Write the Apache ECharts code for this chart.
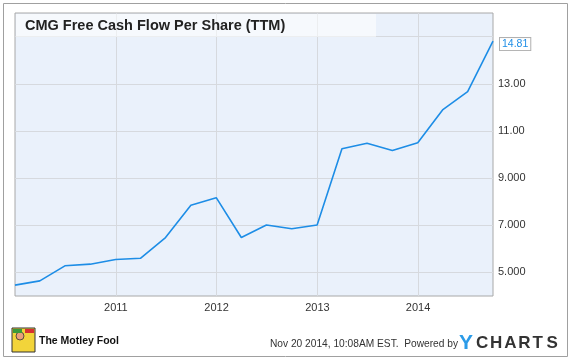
<!DOCTYPE html>
<html><head><meta charset="utf-8">
<script src="https://cdn.jsdelivr.net/npm/echarts@6/dist/echarts.min.js"></script>
<style>html,body{margin:0;padding:0;background:#fff}#c{width:580px;height:364px}</style>
</head><body><div id="c"></div>
<script>
const chartTitle = 'CMG Free Cash Flow Per Share (TTM)';
const dates = ['2009-12-31','2010-03-31','2010-06-30','2010-09-30','2010-12-31',
  '2011-03-31','2011-06-30','2011-09-30','2011-12-31',
  '2012-03-31','2012-06-30','2012-09-30','2012-12-31',
  '2013-03-31','2013-06-30','2013-09-30','2013-12-31',
  '2014-03-31','2014-06-30','2014-09-30'];
const values = [4.46,4.64,5.28,5.35,5.55,5.60,6.48,7.85,8.17,6.48,7.01,6.85,7.01,10.24,10.48,10.17,10.50,11.89,12.67,14.81];
const yTicks = [5,7,9,11,13,15];
const yTickLabels = ['5.000','7.000','9.000','11.00','13.00',''];
const xTicks = ['2011-01-01','2012-01-01','2013-01-01','2014-01-01'];
const xTickLabels = ['2011','2012','2013','2014'];
const footerLeft = 'The Motley Fool';
const footerStamp = 'Nov 20 2014, 10:08AM EST.  Powered by';
const footerBrand = 'CHARTS';

const ts = s => Date.parse(s + 'T00:00:00Z');
const xTickTs = xTicks.map(ts);
const font = 'Arial, "Liberation Sans", sans-serif';

const brandLetters = footerBrand.split('').map((ch, i) => ({
  type: 'text', x: 476 + i * 14.1, y: 343,
  style: {text: ch, font: 'bold 17px ' + font, fill: '#333', verticalAlign: 'middle'}, z: 6
}));

const chart = echarts.init(document.getElementById('c'));
chart.setOption({
  animation: false,
  grid: {left: 15, right: 87, top: 13, bottom: 68, show: true,
    backgroundColor: '#eaf1fb', borderColor: '#a8a8a8', borderWidth: 1},
  xAxis: {
    type: 'value', min: ts(dates[0]), max: ts(dates[dates.length-1]),
    axisLine: {show: false}, axisTick: {show: false, customValues: xTickTs},
    splitLine: {show: true, lineStyle: {color: '#d6d9de', width: 1}},
    axisLabel: {customValues: xTickTs, color: '#333', fontSize: 11, fontFamily: font, margin: 6,
      formatter: v => { const i = xTickTs.indexOf(v); return i >= 0 ? xTickLabels[i] : ''; }}
  },
  yAxis: {
    type: 'value', position: 'right', min: 4, max: 16,
    axisLine: {show: false}, axisTick: {show: false, customValues: yTicks},
    splitLine: {show: true, lineStyle: {color: '#d6d9de', width: 1}},
    axisLabel: {customValues: yTicks, color: '#333', fontSize: 11, fontFamily: font, margin: 5,
      formatter: v => { const i = yTicks.indexOf(v); return i >= 0 ? yTickLabels[i] : ''; }}
  },
  series: [{
    type: 'line', showSymbol: false, symbol: 'none',
    data: dates.map((d, i) => [ts(d), values[i]]),
    lineStyle: {color: '#1d8de6', width: 1.6},
    endLabel: {show: true, formatter: p => p.value[1].toFixed(2), color: '#1d8de6',
      fontSize: 10.5, fontFamily: font, backgroundColor: '#fff', borderColor: '#b0b0b0',
      borderWidth: 1, padding: [1, 2, 0, 2], distance: 7, offset: [0, 3]}
  }],
  graphic: [
    {type: 'rect', shape: {x: 3.5, y: 3.5, width: 564, height: 353}, style: {fill: 'none', stroke: '#a0a0a0', lineWidth: 1}, z: 0},
    {type: 'rect', shape: {x: 16, y: 14, width: 360, height: 23}, style: {fill: 'rgba(255,255,255,0.55)'}, z: 5},
    {type: 'text', x: 25, y: 26, style: {text: chartTitle, font: 'bold 14.5px ' + font, fill: '#222', verticalAlign: 'middle'}, z: 6},
    {type: 'rect', shape: {x: 12, y: 328, width: 23, height: 24}, style: {fill: '#f2d43a', stroke: '#333', lineWidth: 1}, z: 5},
    {type: 'circle', shape: {cx: 20, cy: 336, r: 4}, style: {fill: '#e8a07a', stroke: '#333', lineWidth: 0.8}, z: 6},
    {type: 'rect', shape: {x: 13, y: 329, width: 9, height: 4}, style: {fill: '#3a9a3a'}, z: 6},
    {type: 'rect', shape: {x: 25, y: 329, width: 9, height: 4}, style: {fill: '#d83030'}, z: 6},
    {type: 'text', x: 39, y: 341, style: {text: footerLeft, font: 'bold 10.5px ' + font, fill: '#111', verticalAlign: 'middle'}, z: 6},
    {type: 'text', x: 270, y: 344, style: {text: footerStamp, font: '10.2px ' + font, fill: '#333', verticalAlign: 'middle'}, z: 6},
    {type: 'text', x: 459, y: 343, style: {text: 'Y', font: 'bold 21px ' + font, fill: '#2b9be8', verticalAlign: 'middle'}, z: 6}
  ].concat(brandLetters)
});
</script></body></html>
